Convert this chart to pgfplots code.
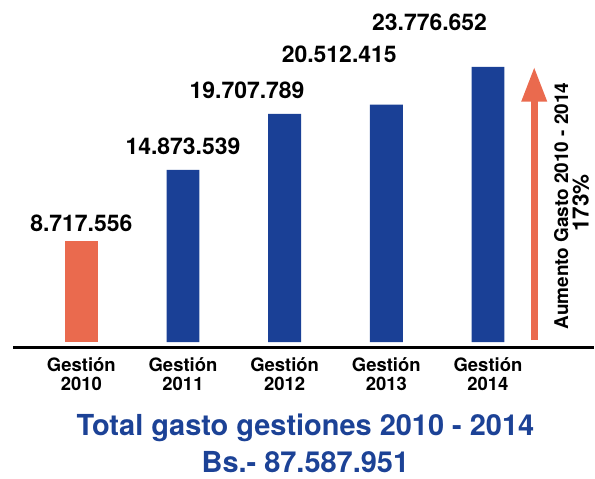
\documentclass[border=0pt]{standalone}
\usepackage{pgfplots}
\pgfplotsset{compat=1.18}
\usepackage{fontspec}
\setmainfont{TeX Gyre Heros}
\usetikzlibrary{arrows.meta}
\definecolor{barorange}{RGB}{234,106,78}
\definecolor{barblue}{RGB}{26,64,150}
\definecolor{titleblue}{RGB}{28,66,150}
\begin{document}
\begin{tikzpicture}
\begin{axis}[
  x=101.9pt, y=11.61pt,
  xmin=-0.672, xmax=5.04, ymin=-0.47, ymax=29.54,
  hide y axis,
  axis x line*=bottom,
  axis line style={line width=2.6pt},
  xtick={0,1,2,3,4},
  xticklabels={{Gestión\\2010},{Gestión\\2011},{Gestión\\2012},{Gestión\\2013},{Gestión\\2014}},
  xticklabel style={align=center, font=\fontsize{18.5}{19}\selectfont\bfseries, inner sep=0pt, yshift=-9.5pt},
  major tick length=0pt,
  clip=false,
]
\addplot[ybar, bar width=33pt, bar shift=0pt, fill=barorange, draw=none] coordinates {(0,8.717556)};
\addplot[ybar, bar width=33pt, bar shift=0pt, fill=barblue, draw=none] coordinates {(1,14.873539) (2,19.707789) (3,20.512415) (4,23.776652)};
\path (axis cs:-0.8,29.54) rectangle (axis cs:5.04,-11.8);
\begin{scope}[every node/.style={anchor=base, font=\fontsize{23}{25}\selectfont\bfseries, inner sep=0pt}]
\node at (axis cs:0,9.56) {8.717.556};
\node at (axis cs:1.0,16.19) {14.873.539};
\node at (axis cs:1.63,21.02) {19.707.789};
\node at (axis cs:2.537,24.12) {20.512.415};
\node at (axis cs:3.425,26.87) {23.776.652};
\end{scope}
\draw[barorange, line width=7pt, -{Triangle[width=24pt,length=35pt]}] (axis cs:4.455,0.17) -- (axis cs:4.455,23.77);
\node[rotate=90, font=\fontsize{19}{20}\selectfont\bfseries, inner sep=0pt] at (axis cs:4.72,11.76) {Aumento Gasto 2010 - 2014};
\node[rotate=90, font=\fontsize{22.5}{24}\selectfont\bfseries, inner sep=0pt] at (axis cs:4.912,12.02) {173\%};
\node[anchor=base, font=\fontsize{29}{30}\selectfont\bfseries, text=titleblue, inner sep=0pt] at (axis cs:2.204,-8.10) {Total gasto gestiones 2010 - 2014};
\node[anchor=base, font=\fontsize{29}{30}\selectfont\bfseries, text=titleblue, inner sep=0pt] at (axis cs:2.204,-11.28) {Bs.- 87.587.951};
\end{axis}
\end{tikzpicture}
\end{document}
